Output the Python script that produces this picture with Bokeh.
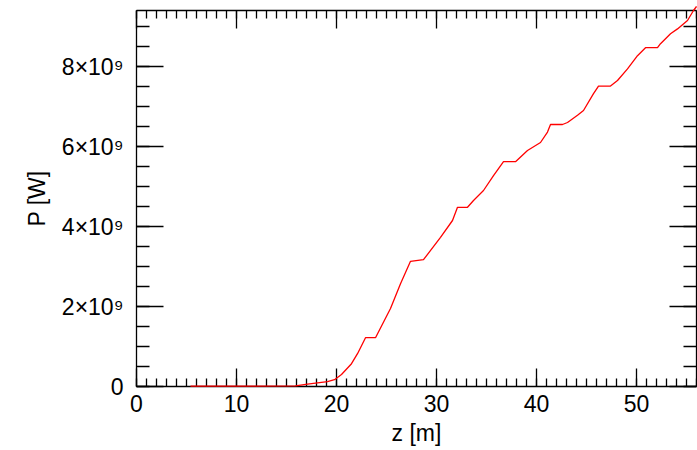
from bokeh.plotting import figure
from bokeh.models import (LinearAxis, SingleIntervalTicker, CustomJSTickFormatter,
                          Range1d, ColumnDataSource)
from bokeh.embed import file_html
from bokeh.resources import INLINE

# Data
z_m = [5.4, 10.0, 15.9, 17.1, 19.1, 19.8, 20.5, 21.5, 22.1, 22.9, 23.9,
       25.4, 26.4, 27.4, 28.7, 30.4, 31.6, 32.1, 33.1, 33.7, 34.7, 35.7,
       36.7, 37.9, 39.1, 40.4, 41.1, 41.4, 42.6, 43.1, 44.1, 44.7, 45.7,
       46.2, 47.4, 48.1, 49.1, 50.1, 50.9, 52.1, 52.4, 53.4, 54.1, 55.1,
       55.7, 56.0]
power_gw = [0.01, 0.01, 0.015, 0.06, 0.12, 0.17, 0.30, 0.57, 0.82, 1.22, 1.22,
            1.95, 2.57, 3.13, 3.17, 3.73, 4.15, 4.48, 4.48, 4.65, 4.90, 5.27,
            5.62, 5.62, 5.90, 6.10, 6.36, 6.55, 6.55, 6.60, 6.78, 6.90, 7.32,
            7.51, 7.51, 7.65, 7.94, 8.27, 8.47, 8.47, 8.57, 8.82, 8.94, 9.15,
            9.40, 9.50]
power_w = [v * 1e9 for v in power_gw]

x_major = 10
x_minor = 10
y_major = 2e9
y_minor = 4

FONT = "Liberation Sans"
FS = "23px"

p = figure(width=697, height=450, output_backend="svg", toolbar_location=None,
           x_range=Range1d(0, 56), y_range=Range1d(0, 9.4e9),
           x_axis_location=None, y_axis_location=None,
           min_border_left=136, min_border_right=1, min_border_top=10,
           min_border_bottom=64)
p.grid.visible = False
p.outline_line_color = None
p.background_fill_color = "white"
p.border_fill_color = "white"

src = ColumnDataSource(dict(z=z_m, P=power_w))
p.line("z", "P", source=src, line_color="red", line_width=1.3, level="overlay")

yfmt = CustomJSTickFormatter(code="""
if (tick == 0) { return "0"; }
return (Math.round(tick/1e8)/10) + "\u00d710\u2079";
""")
blank = CustomJSTickFormatter(code='return "";')


def style(ax, tick_in, minor_in):
    ax.axis_line_color = "black"
    ax.axis_line_width = 1.3
    ax.major_tick_line_color = "black"
    ax.minor_tick_line_color = "black"
    ax.major_tick_line_width = 1.3
    ax.minor_tick_line_width = 1.3
    ax.major_tick_in = tick_in
    ax.major_tick_out = 0
    ax.minor_tick_in = minor_in
    ax.minor_tick_out = 0
    ax.major_label_text_font = FONT
    ax.major_label_text_font_size = FS
    ax.major_label_text_color = "black"
    ax.axis_label_text_font = FONT
    ax.axis_label_text_font_size = FS
    ax.axis_label_text_font_style = "normal"
    ax.axis_label_text_color = "black"


xt = SingleIntervalTicker(interval=x_major, num_minor_ticks=x_minor)
yt = SingleIntervalTicker(interval=y_major, num_minor_ticks=y_minor)

bottom = LinearAxis(ticker=xt, axis_label="z [m]")
style(bottom, 18, 8)
bottom.major_label_standoff = 8
bottom.axis_label_standoff = 5
p.add_layout(bottom, "below")

left = LinearAxis(ticker=yt, formatter=yfmt, axis_label="P [W]")
style(left, 27, 13)
left.major_label_standoff = 13
left.axis_label_standoff = 9
p.add_layout(left, "left")

top = LinearAxis(ticker=SingleIntervalTicker(interval=x_major, num_minor_ticks=x_minor),
                 formatter=blank)
style(top, 18, 8)
top.major_label_standoff = 0
p.add_layout(top, "above")

right = LinearAxis(ticker=SingleIntervalTicker(interval=y_major, num_minor_ticks=y_minor),
                   formatter=blank)
style(right, 27, 13)
right.major_label_standoff = 0
p.add_layout(right, "right")

open("out.html", "w").write(file_html(p, INLINE))
